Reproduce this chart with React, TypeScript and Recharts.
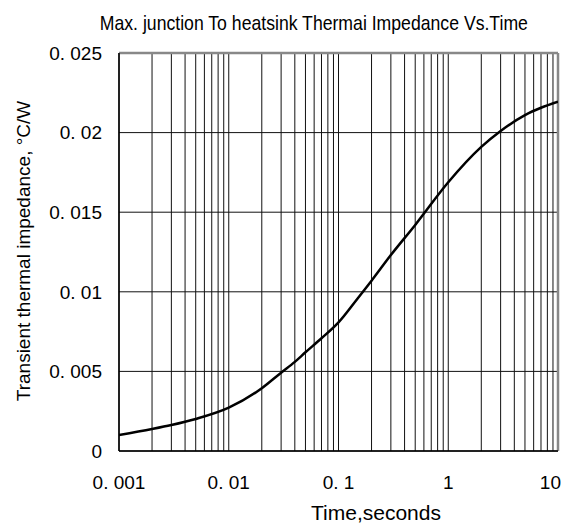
import { LineChart, Line, XAxis, YAxis, CartesianGrid, ReferenceLine } from "recharts";

const times = [0.001, 0.002, 0.003, 0.005, 0.01, 0.02, 0.03, 0.04, 0.05, 0.07, 0.1, 0.15, 0.2, 0.3, 0.5, 1, 2, 3, 5, 7, 10];
const impedance = [0.001, 0.00138, 0.00163, 0.00201, 0.00272, 0.00394, 0.00492, 0.0056, 0.0062, 0.00708, 0.00808, 0.0096, 0.0107, 0.01231, 0.0142, 0.01688, 0.0191, 0.0201, 0.0211, 0.02156, 0.02194];

const xTicks = [
  0.001, 0.002, 0.003, 0.004, 0.005, 0.006, 0.007, 0.008, 0.009,
  0.01, 0.02, 0.03, 0.04, 0.05, 0.06, 0.07, 0.08, 0.09,
  0.1, 0.2, 0.3, 0.4, 0.5, 0.6, 0.7, 0.8, 0.9,
  1, 2, 3, 4, 5, 6, 7, 8, 9, 10,
];
const xLabels: Record<string, string> = { "0.001": "0. 001", "0.01": "0. 01", "0.1": "0. 1", "1": "1", "10": "10" };
const yTicks = [0, 0.005, 0.01, 0.015, 0.02, 0.025];
const yLabels = ["0", "0. 005", "0. 01", "0. 015", "0. 02", "0. 025"];

const data = times.map((t, i) => ({ t, z: impedance[i] }));

const font = "'Liberation Sans', Arial, sans-serif";

const XTick = (props: any) => {
  const { x, y, payload } = props;
  const label = xLabels[String(payload.value)];
  if (!label) return null;
  const last = payload.value === 10;
  return (
    <text
      x={last ? x + 3 : x}
      y={y}
      dy="0.71em"
      textAnchor={last ? "end" : "middle"}
      fontSize={19}
      fontFamily={font}
      fill="#000"
    >
      {label}
    </text>
  );
};

export default function App() {
  return (
    <div style={{ position: "relative", width: 565, height: 516, fontFamily: font }}>
      <div
        style={{
          position: "absolute",
          left: 306,
          top: 3,
          width: 0,
          display: "flex",
          justifyContent: "center",
        }}
      >
        <div
          style={{
            fontSize: 21,
            whiteSpace: "nowrap",
            transform: "scaleX(0.84)",
          }}
        >
          Max. junction To heatsink Thermai Impedance Vs.Time
        </div>
      </div>
      <LineChart width={565} height={516} data={data} margin={{ top: 45, right: 15, left: 0, bottom: 0 }}>
        <CartesianGrid stroke="#111" strokeWidth={1} verticalValues={xTicks} />
        <XAxis
          dataKey="t"
          type="number"
          scale="log"
          domain={[0.001, 10]}
          ticks={xTicks}
          interval={0}
          height={73}
          tickLine={false}
          tickSize={0}
          tickMargin={25}
          tick={<XTick />}
          axisLine={{ stroke: "#000", strokeWidth: 1.5 }}
          allowDataOverflow
        />
        <YAxis
          type="number"
          domain={[0, 0.025]}
          ticks={yTicks}
          width={111}
          tickLine={false}
          tickSize={0}
          tickMargin={17}
          tickFormatter={(v: number) => yLabels[yTicks.indexOf(v)] ?? ""}
          tick={{ fontSize: 19, fill: "#000", fontFamily: font }}
          axisLine={{ stroke: "#000", strokeWidth: 1.5 }}
          allowDataOverflow
        />
        <ReferenceLine y={0.025} stroke="#888" strokeWidth={2.5} />
        <ReferenceLine x={10} stroke="#888" strokeWidth={2.5} />
        <Line
          type="monotone"
          dataKey="z"
          stroke="#000"
          strokeWidth={2.5}
          dot={false}
          isAnimationActive={false}
        />
      </LineChart>
      <div
        style={{
          position: "absolute",
          left: 303,
          top: 493,
          fontSize: 21,
          whiteSpace: "nowrap",
        }}
      >
        Time,seconds
      </div>
      <div
        style={{
          position: "absolute",
          left: 16,
          top: 243,
          width: 0,
          height: 0,
        }}
      >
        <div
          style={{
            position: "absolute",
            transform: "translate(-50%, -50%) rotate(-90deg)",
            fontSize: 19,
            whiteSpace: "nowrap",
          }}
        >
          Transient thermal impedance, °C/W
        </div>
      </div>
    </div>
  );
}
